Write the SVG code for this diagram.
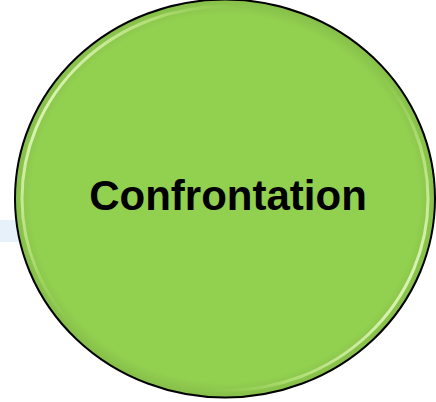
<svg xmlns="http://www.w3.org/2000/svg" width="436" height="402" viewBox="0 0 436 402">
  <style>
    .label { font-family: "Liberation Sans", Arial, sans-serif; font-weight: bold; font-size: 42px; fill: #000000; }
    .disc { fill: #92D050; stroke: #000000; stroke-width: 2; }
    .gloss { fill: none; stroke: url(#rim); stroke-width: 3; }
  </style>
  <defs>
    <linearGradient id="rim" x1="0" y1="0.25" x2="1" y2="0.75">
      <stop offset="0" stop-color="#F2FFD8" stop-opacity="0.95"/>
      <stop offset="0.18" stop-color="#D8F5A0" stop-opacity="0.45"/>
      <stop offset="0.35" stop-color="#92D050" stop-opacity="0"/>
      <stop offset="0.65" stop-color="#92D050" stop-opacity="0"/>
      <stop offset="0.82" stop-color="#D8F5A0" stop-opacity="0.45"/>
      <stop offset="1" stop-color="#F2FFD8" stop-opacity="0.95"/>
    </linearGradient>
    <radialGradient id="shade" cx="0.5" cy="0.5" r="0.5">
      <stop offset="0.93" stop-color="#000000" stop-opacity="0"/>
      <stop offset="1" stop-color="#000000" stop-opacity="0.08"/>
    </radialGradient>
  </defs>
  <rect x="0" y="220" width="20" height="22" fill="#E6F1FA"/>
  <g id="confrontation">
    <ellipse class="disc" cx="225" cy="198.5" rx="210" ry="199"/>
    <ellipse cx="225" cy="198.5" rx="209" ry="198" fill="url(#shade)"/>
    <ellipse class="gloss" cx="225" cy="198.5" rx="203" ry="192"/>
    <text class="label" x="228" y="210" text-anchor="middle">Confrontation</text>
  </g>
</svg>
